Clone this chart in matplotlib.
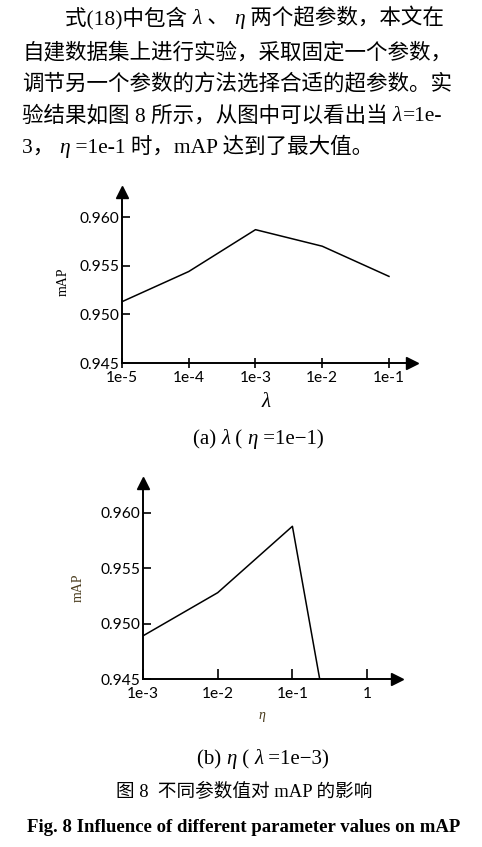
import numpy as np
import matplotlib
matplotlib.use("Agg")
import matplotlib.pyplot as plt

# data
lam_labels = ["1e-5", "1e-4", "1e-3", "1e-2", "1e-1"]
lam_values = [1e-5, 1e-4, 1e-3, 1e-2, 1e-1]
map_lam = [0.9513, 0.9544, 0.9587, 0.9570, 0.9539]

eta_labels = ["1e-3", "1e-2", "1e-1", "1"]
eta_values = [1e-3, 1e-2, 1e-1, 1.0]
map_eta = [0.9489, 0.9528, 0.9588, 0.9210]

y_ticks = [0.945, 0.950, 0.955, 0.960]

W, H = 482, 847
SERIF = ["Liberation Serif", "Noto Sans CJK SC"]
TICKFONT = "Lato"

fig = plt.figure(figsize=(W / 100, H / 100), dpi=100)
renderer = fig.canvas.get_renderer()


def put_line(x, y, parts, size=15.5):
    """Write one line made of (text, italic) pieces, left to right, baseline at y (px)."""
    for s, italic in parts:
        t = fig.text(x / W, 1 - y / H, s, fontsize=size, family=SERIF,
                     style="italic" if italic else "normal", va="baseline", ha="left")
        x += t.get_window_extent(renderer).width


# paragraph above the charts
put_line(65, 24, [("式(18)中包含 ", False), ("λ", True), (" 、 ", False), ("η", True),
                  (" 两个超参数，本文在", False)])
put_line(22, 58, [("自建数据集上进行实验，采取固定一个参数，", False)])
put_line(22, 90, [("调节另一个参数的方法选择合适的超参数。实", False)])
put_line(22, 121, [("验结果如图 8 所示，从图中可以看出当 ", False), ("λ", True), ("=1e-", False)])
put_line(22, 153, [("3， ", False), ("η", True), (" =1e-1 时，mAP 达到了最大值。", False)])


def make_axes(rect, xvals, xlabels, xlim, ylim, yvals):
    ax = fig.add_axes(rect)
    ax.plot(xvals, yvals, color="black", lw=1.1)
    ax.set_xscale("log")
    ax.set_xlim(*xlim)
    ax.set_ylim(*ylim)
    ax.minorticks_off()
    ax.set_xticks(xvals)
    ax.set_xticklabels(xlabels)
    ax.set_yticks(y_ticks)
    ax.set_yticklabels([f"{v:.3f}" for v in y_ticks])
    for side in ["top", "right"]:
        ax.spines[side].set_visible(False)
    for side in ["left", "bottom"]:
        ax.spines[side].set_linewidth(1.4)
    ax.tick_params(axis="both", labelsize=11.2, width=1.2)
    for lab in ax.get_xticklabels() + ax.get_yticklabels():
        lab.set_family(TICKFONT)
    # arrow heads at the ends of the axes
    ax.plot(1, 0, ">k", ms=8, transform=ax.transAxes, clip_on=False)
    ax.plot(0, 1, "^k", ms=8, transform=ax.transAxes, clip_on=False)
    return ax


# (a) lambda
ax1 = make_axes([122 / W, 1 - 363 / H, (412 - 122) / W, (363 - 192) / H],
                lam_values, lam_labels, (1e-5, 10 ** -0.655), (0.945, 0.96257), map_lam)
ax1.tick_params(axis="y", direction="in", length=6, pad=2)
ax1.tick_params(axis="x", direction="inout", length=7, pad=2)
fig.text(63 / W, 1 - 282 / H, "mAP", rotation=90, fontsize=10, family=SERIF,
         ha="center", va="center")
fig.text(266 / W, 1 - 402 / H, "λ", fontsize=15, style="italic", family=SERIF,
         ha="center", va="center")
put_line(193, 444, [("(a) ", False), ("λ", True), (" ( ", False), ("η", True), (" =1e−1)", False)],
         size=15)

# (b) eta
ax2 = make_axes([143 / W, 1 - 679 / H, (397 - 143) / W, (679 - 483) / H],
                eta_values, eta_labels, (1e-3, 10 ** 0.40), (0.945, 0.96271), map_eta)
ax2.tick_params(axis="y", direction="in", length=6, pad=2)
ax2.tick_params(axis="x", direction="in", length=7, pad=6)
fig.text(78 / W, 1 - 588 / H, "mAP", rotation=90, fontsize=10, family=SERIF,
         color="#4a3c1e", ha="center", va="center")
fig.text(262 / W, 1 - 715 / H, "η", fontsize=10, style="italic", family=SERIF,
         color="#4a3c1e", ha="center", va="center")
put_line(197, 764, [("(b) ", False), ("η", True), (" ( ", False), ("λ", True), (" =1e−3)", False)],
         size=15)

# figure captions
fig.text(244 / W, 1 - 792 / H, "图 8  不同参数值对 mAP 的影响", fontsize=13.4, family=SERIF,
         ha="center", va="center")
fig.text(244 / W, 1 - 827 / H, "Fig. 8 Influence of different parameter values on mAP",
         fontsize=13.5, weight="bold", family=SERIF, ha="center", va="center")

fig.savefig("out.png", dpi=100)
